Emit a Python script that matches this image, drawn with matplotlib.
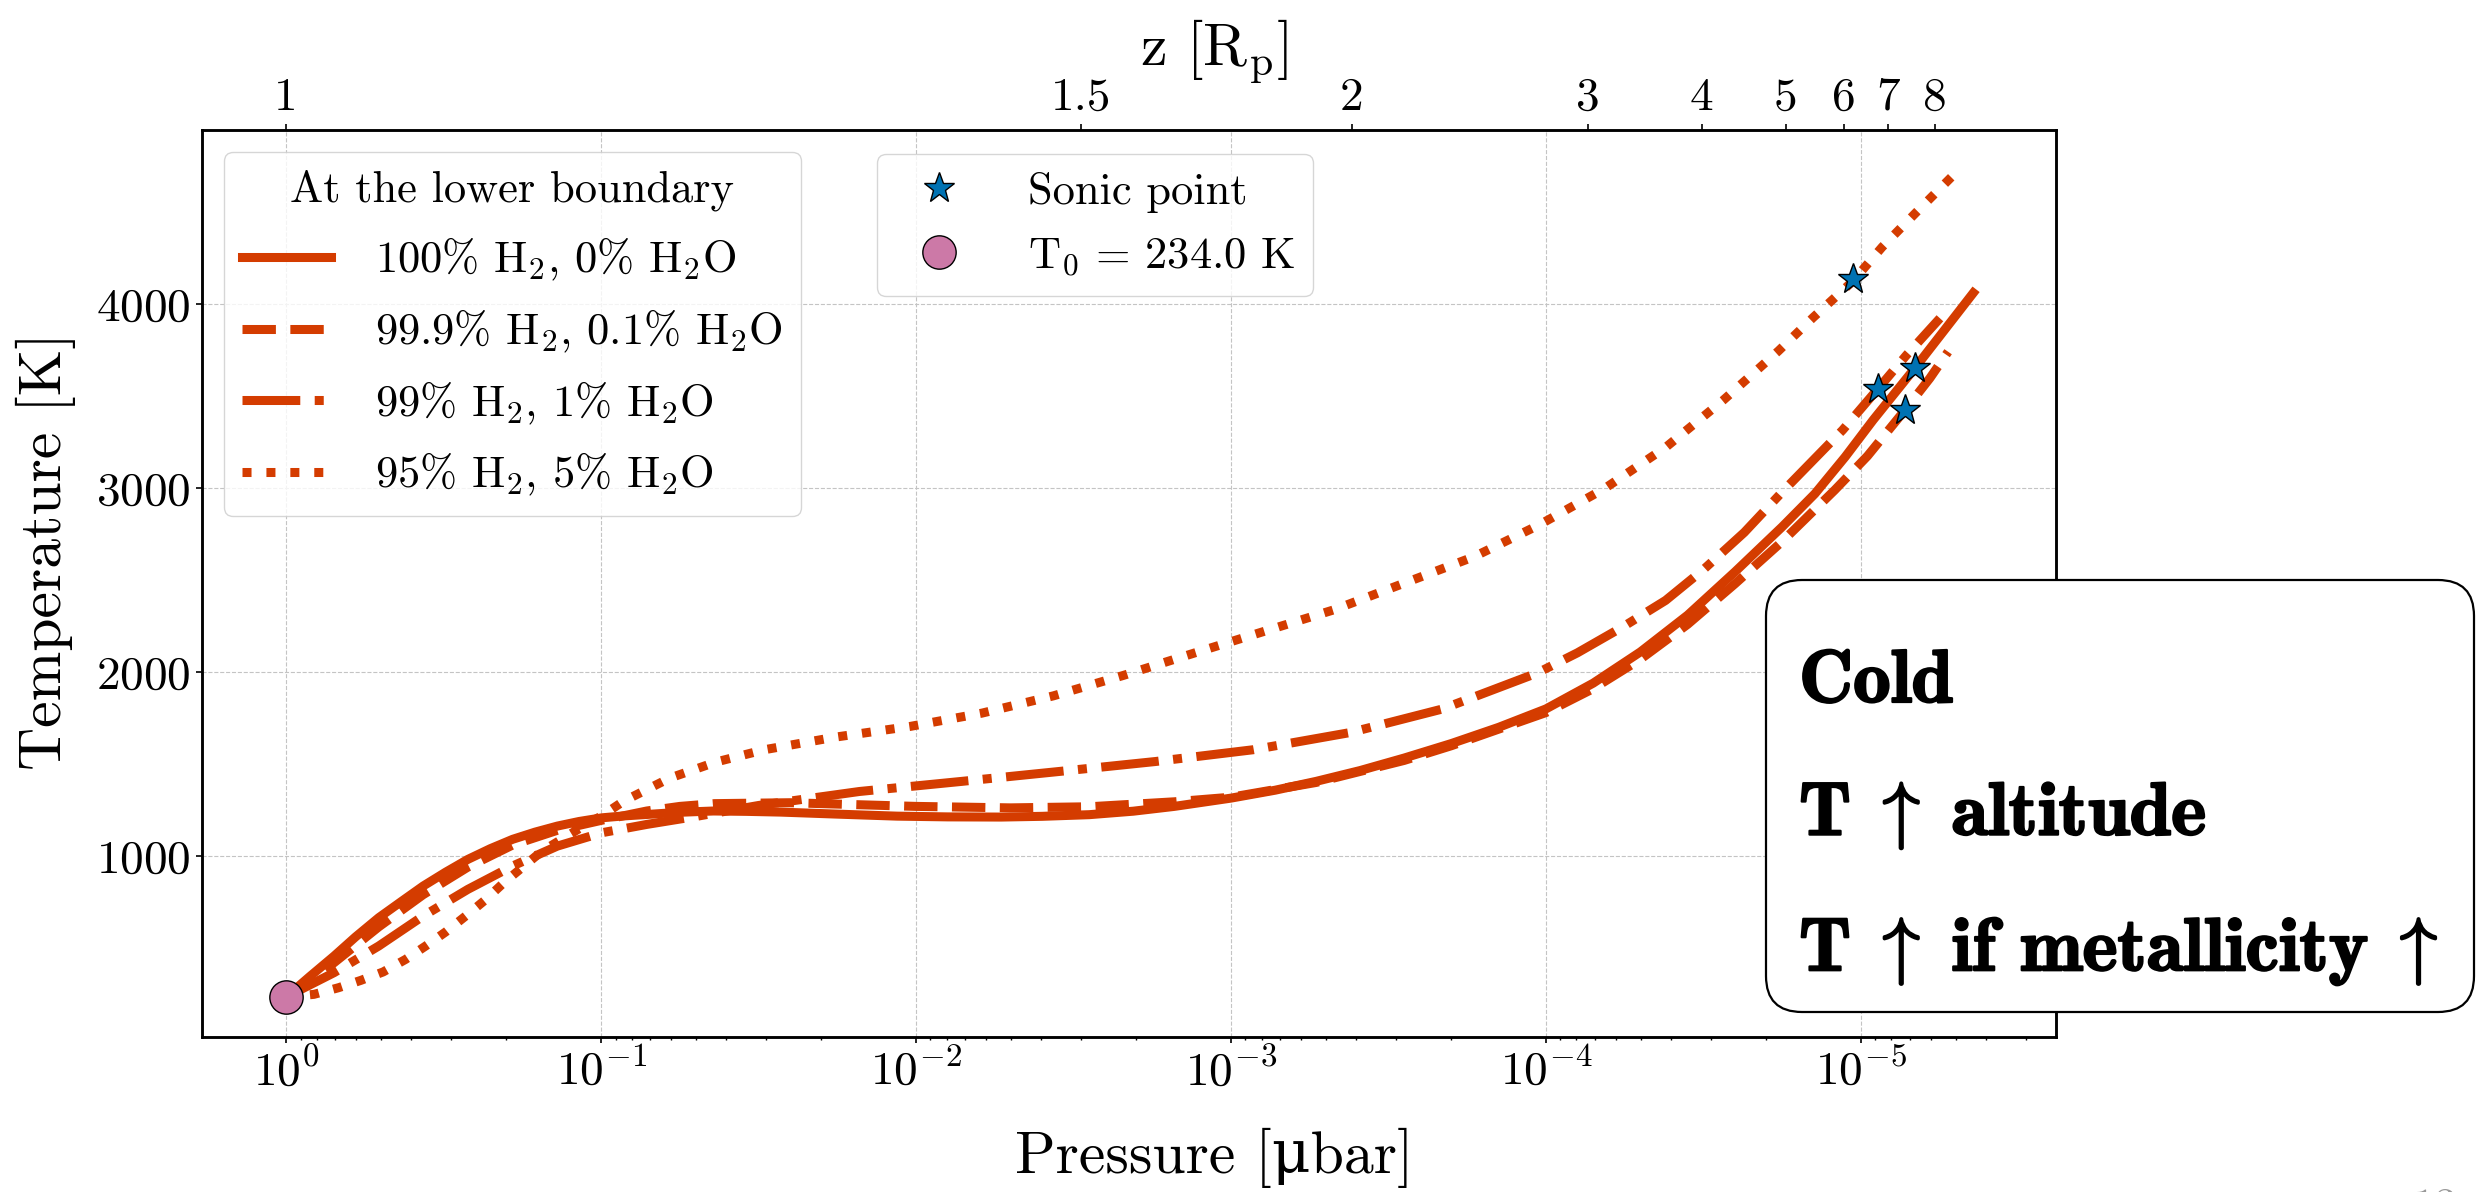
import numpy as np
import matplotlib
matplotlib.use("Agg")
import matplotlib.pyplot as plt
import matplotlib.patheffects as pe
from matplotlib.patches import FancyBboxPatch

plt.rcParams['font.family'] = ['cmr10', 'DejaVu Serif']
plt.rcParams['mathtext.fontset'] = 'cm'
plt.rcParams['axes.formatter.use_mathtext'] = True

# log10 of pressure [ubar] and temperature [K]
logp_100 = [0, -0.075, -0.152, -0.22, -0.294, -0.365, -0.435, -0.506, -0.577, -0.648,
            -0.719, -0.79, -0.861, -0.93, -1.003, -1.07, -1.145, -1.25, -1.357, -1.46,
            -1.57, -1.75, -1.94, -2.1, -2.27, -2.4, -2.55, -2.69, -2.82, -3.0,
            -3.14, -3.27, -3.41, -3.55, -3.7, -3.85, -4.0, -4.15, -4.3, -4.45,
            -4.6, -4.75, -4.854, -4.95, -5.039, -5.171, -5.357]
temp_100 = [234, 345, 456, 560, 665, 752, 837, 912, 982, 1040,
            1091, 1130, 1163, 1188, 1208, 1218, 1226, 1238, 1245, 1243,
            1239, 1228, 1217, 1213, 1212, 1216, 1225, 1244, 1270, 1315,
            1358, 1406, 1465, 1533, 1612, 1700, 1800, 1940, 2110, 2310,
            2545, 2790, 2970, 3170, 3371, 3652, 4062]

logp_999 = [0, -0.152, -0.294, -0.435, -0.577, -0.719, -0.861, -1.003, -1.145, -1.25,
            -1.36, -1.6, -2.0, -2.3, -2.55, -2.82, -3.0, -3.27, -3.55, -3.7,
            -3.85, -4.0, -4.15, -4.3, -4.45, -4.6, -4.75, -4.917, -5.021, -5.14,
            -5.219, -5.277]
temp_999 = [234, 420, 615, 790, 940, 1060, 1140, 1195, 1245, 1270,
            1285, 1290, 1270, 1262, 1268, 1295, 1320, 1400, 1520, 1600,
            1690, 1780, 1910, 2070, 2260, 2480, 2710, 2990, 3175, 3425,
            3598, 3742]

logp_99 = [0, -0.152, -0.294, -0.435, -0.577, -0.719, -0.861, -1.003, -1.145, -1.3,
           -1.5, -1.82, -2.145, -2.455, -2.76, -3.07, -3.38, -3.67, -3.972, -4.1,
           -4.246, -4.38, -4.501, -4.63, -4.756, -4.942, -5.053, -5.145, -5.251]
temp_99 = [234, 366, 511, 674, 819, 946, 1054, 1127, 1172, 1215,
           1275, 1351, 1406, 1460, 1514, 1578, 1672, 1799, 1995, 2105,
           2248, 2390, 2559, 2760, 2990, 3316, 3538, 3724, 3924]

logp_95 = [0, -0.088, -0.166, -0.237, -0.308, -0.379, -0.443, -0.506, -0.570, -0.634,
           -0.691, -0.811, -0.946, -1.003, -1.073, -1.218, -1.364, -1.518, -1.745, -1.982,
           -2.209, -2.436, -2.658, -2.882, -3.104, -3.327, -3.552, -3.771, -3.978, -4.185,
           -4.38, -4.562, -4.738, -4.849, -4.974, -5.068, -5.177, -5.29]
temp_95 = [234, 248, 284, 324, 370, 438, 511, 587, 674, 764,
           855, 1025, 1165, 1220, 1300, 1424, 1511, 1578, 1647, 1705,
           1777, 1871, 1982, 2103, 2221, 2339, 2485, 2627, 2800, 2997,
           3222, 3477, 3746, 3929, 4125, 4312, 4502, 4696]

# sonic points
logp_sonic = [-4.974, -5.053, -5.171, -5.14]
temp_sonic = [4138, 3538, 3652, 3425]

# lower boundary
T0 = 234.0
P0 = 1.0

# top axis: planet radii and where they fall in log10 pressure
z_labels = ['1', '1.5', '2', '3', '4', '5', '6', '7', '8']
z_logp = [0, -2.524, -3.384, -4.133, -4.495, -4.762, -4.946, -5.086, -5.235]

labels = [r'100% H$_2$, 0% H$_2$O', r'99.9% H$_2$, 0.1% H$_2$O',
          r'99% H$_2$, 1% H$_2$O', r'95% H$_2$, 5% H$_2$O']
styles = ['-', '--', '-.', ':']
color = '#d43c00'

fig = plt.figure(figsize=(24.76, 11.92), dpi=100)
ax = fig.add_axes([0.0815, 0.130, 0.7489, 0.761])

series = [(logp_100, temp_100), (logp_999, temp_999), (logp_99, temp_99), (logp_95, temp_95)]
lines = []
for (lp, tt), ls, lab in zip(series, styles, labels):
    ln, = ax.plot(10 ** np.array(lp), tt, ls=ls, color=color, lw=6.5, label=lab, zorder=3)
    lines.append(ln)

star, = ax.plot(10 ** np.array(logp_sonic), temp_sonic, ls='none', marker='*', ms=23,
                mfc='#0072B2', mec='black', mew=1.0, label='Sonic point', zorder=5)
dot, = ax.plot([P0], [T0], ls='none', marker='o', ms=24, mfc='#CC79A7', mec='black',
               mew=1.0, label=r'T$_0$ = %.1f K' % T0, zorder=5)

ax.set_xscale('log')
ax.set_xlim(1.853, 2.4e-6)
ax.set_ylim(16, 4948)
ax.set_yticks([1000, 2000, 3000, 4000])
ax.grid(True, which='major', ls='--', lw=0.8, color='#c4c4c4')
ax.set_axisbelow(True)
ax.tick_params(which='major', labelsize=34, length=4.5, width=1.2, direction='out')
ax.tick_params(which='minor', length=2.5, width=1.0, direction='out')
for sp in ax.spines.values():
    sp.set_linewidth(1.8)

ax.set_xlabel(r'Pressure [μbar]', fontsize=43)
ax.xaxis.set_label_coords(0.546, -0.100)
ax.set_ylabel('Temperature [K]', fontsize=43)
ax.yaxis.set_label_coords(-0.068, 0.536)

leg1 = ax.legend(handles=lines, loc='upper left', fontsize=32, title='At the lower boundary',
                 title_fontsize=32, handletextpad=1.0, borderaxespad=0.5, labelspacing=0.55)
ax.add_artist(leg1)
ax.legend(handles=[star, dot], loc='upper left', bbox_to_anchor=(0.364, 0.9735),
          borderaxespad=0, fontsize=32, numpoints=1, handletextpad=1.0)

ax2 = ax.twiny()
ax2.set_xscale('log')
ax2.set_xticks(10 ** np.array(z_logp))
ax2.set_xticklabels(z_labels)
ax2.minorticks_off()
ax2.set_xlim(ax.get_xlim())
ax2.tick_params(labelsize=34, length=4.5, width=1.2)
ax2.set_xlabel(r'z [R$_\mathrm{p}$]', fontsize=43)
ax2.xaxis.set_label_coords(0.546, 1.072)
for sp in ax2.spines.values():
    sp.set_linewidth(1.8)

# summary box on the right
box = FancyBboxPatch((17.66, 1.80), 7.08, 4.32, boxstyle='round,pad=0,rounding_size=0.36',
                     transform=fig.dpi_scale_trans, facecolor='white', edgecolor='black',
                     lw=1.6, zorder=10)
fig.add_artist(box)
box_lines = ['Cold', r'T$\;\uparrow\;$altitude', r'T$\;\uparrow\;$if metallicity$\;\uparrow$']
box_base = [702, 835, 971]
for txt, yb in zip(box_lines, box_base):
    fig.text(1799 / 2476, 1 - yb / 1192, txt, va='baseline', ha='left', fontsize=54,
             family=['cmb10', 'DejaVu Serif'], zorder=11,
             path_effects=[pe.withStroke(linewidth=1.6, foreground='black')])

fig.text(2412 / 2476, -0.022, '13', va='baseline', ha='left', fontsize=32, color='#999999')

fig.savefig('out.png', dpi=100)
